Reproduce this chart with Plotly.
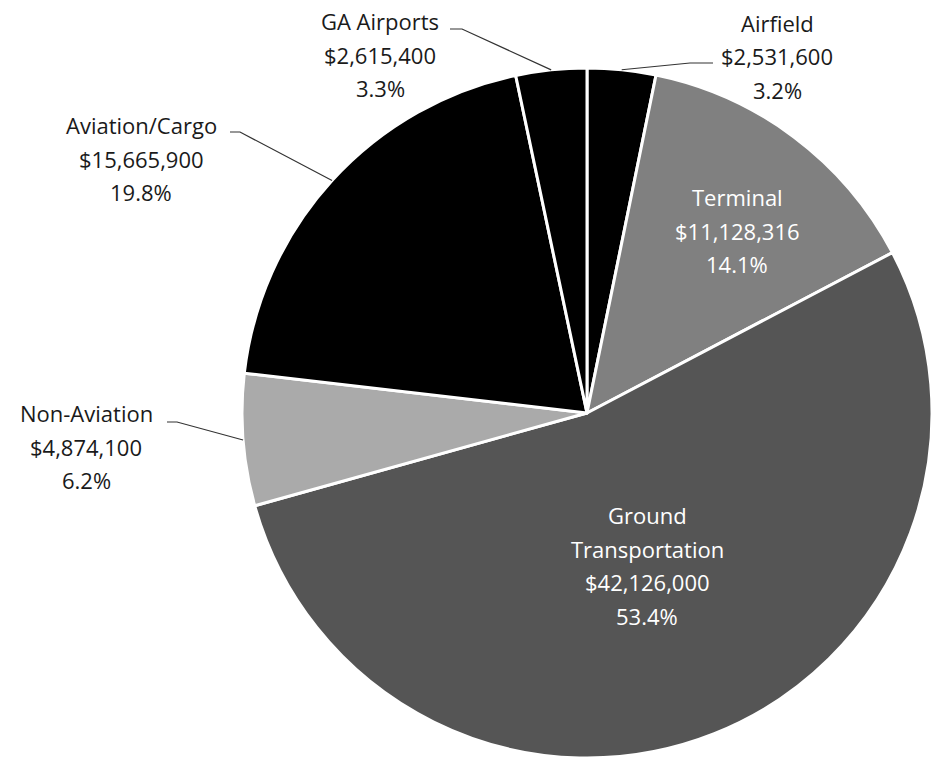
import math
import plotly.graph_objects as go

# Budget by cost centre, clockwise from 12 o'clock
categories = ["Airfield", "Terminal", "Ground Transportation", "Non-Aviation",
              "Aviation/Cargo", "GA Airports"]
name_lines = [["Airfield"], ["Terminal"], ["Ground", "Transportation"], ["Non-Aviation"],
              ["Aviation/Cargo"], ["GA Airports"]]
amounts = [2531600, 11128316, 42126000, 4874100, 15665900, 2615400]
slice_colors = ["#000000", "#808080", "#555555", "#aaaaaa", "#000000", "#000000"]

W, H = 932, 767
# pie placement (pixels)
PIE_LEFT, PIE_CY, PIE_R = 242, 413, 345
PIE_CX = PIE_LEFT + PIE_R

total = sum(amounts)
pct = [a / total * 100 for a in amounts]


def label_lines(i):
    return name_lines[i] + [f"${amounts[i]:,}", f"{pct[i]:.1f}%"]


def mid_angle(i):
    start = sum(amounts[:i]) / total
    frac = start + amounts[i] / total / 2
    return frac * 2 * math.pi


def edge_point(i, r=PIE_R):
    a = mid_angle(i)
    return PIE_CX + r * math.sin(a), PIE_CY - r * math.cos(a)


def px(x):
    return x / W


def py(y):
    return 1 - y / H


fig = go.Figure(go.Pie(
    labels=categories,
    values=amounts,
    sort=False,
    direction="clockwise",
    rotation=0,
    marker=dict(colors=slice_colors, line=dict(color="white", width=3)),
    textinfo="none",
    hoverinfo="label+value+percent",
    domain=dict(x=[px(PIE_LEFT), 1], y=[py(PIE_CY + PIE_R + 5), py(PIE_CY - PIE_R - 5)]),
    showlegend=False,
))

FONT = "Open Sans, Noto Sans, sans-serif"
FONT_SIZE = 22
LINE_GAP = 33.5

# label block: centre x and first-line y (pixels), leader-line elbows
outside = {
    0: dict(pos=(777, 23), path=[(713, 63), (690, 63)]),
    5: dict(pos=(380, 21), path=[(450, 29), (462, 29)]),
    4: dict(pos=(141, 125), path=[(230, 132), (240, 132)]),
    3: dict(pos=(86, 413), path=[(167, 422), (177, 422)]),
}
inside = {
    1: (737, 197),
    2: (647, 515),
}

annotations = []
shapes = []


def add_block(i, x, y0, color):
    for k, line in enumerate(label_lines(i)):
        annotations.append(dict(
            x=px(x), y=py(y0 + k * LINE_GAP), xref="paper", yref="paper", text=line,
            showarrow=False, font=dict(family=FONT, size=FONT_SIZE, color=color),
            xanchor="center", yanchor="middle", align="center",
        ))


for i, spec in outside.items():
    x, y = spec["pos"]
    add_block(i, x, y, "#1a1a1a")
    pts = spec["path"] + [edge_point(i)]
    d = "M " + " L ".join(f"{px(a):.5f},{py(b):.5f}" for a, b in pts)
    shapes.append(dict(type="path", path=d, xref="paper", yref="paper",
                       line=dict(color="#333333", width=1.2)))

for i, (x, y) in inside.items():
    add_block(i, x, y, "white")

fig.update_layout(
    width=W, height=H,
    margin=dict(l=0, r=0, t=0, b=0),
    paper_bgcolor="white",
    plot_bgcolor="white",
    annotations=annotations,
    shapes=shapes,
)

fig.write_html("out.html")
